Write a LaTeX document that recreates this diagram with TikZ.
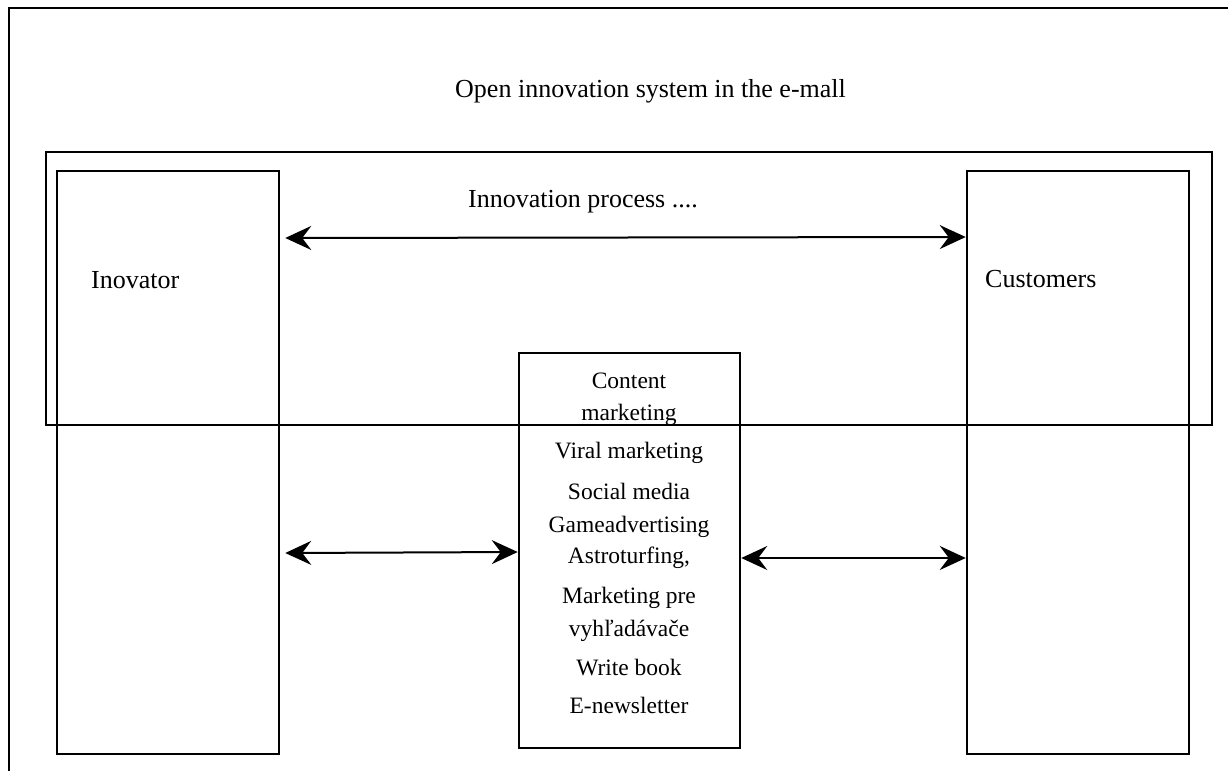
\documentclass[tikz,border=0pt]{standalone}
\usepackage{fontspec}
\setmainfont{Liberation Serif}
\usetikzlibrary{arrows.meta}
\begin{document}
\begin{tikzpicture}[x=1pt,y=-1pt,
  bigbox/.style={draw,line width=2.5pt,rectangle,inner sep=0pt},
  procbox/.style={draw,line width=1.8pt,rectangle,inner sep=0pt},
  lbl/.style={font=\fontsize{26}{30}\selectfont,inner sep=0pt,anchor=base west},
  item/.style={font=\fontsize{23.5}{28}\selectfont,inner sep=0pt,anchor=base},
  arr/.style={line width=2pt,{Stealth[length=26pt,width=24pt,inset=9pt]}-{Stealth[length=26pt,width=24pt,inset=9pt]}}
]
\useasboundingbox (0,0) rectangle (1228,771);
% outer frame (open on right and bottom)
\draw[line width=1.2pt] (9,771) -- (9,8) -- (1228,8);
% process rectangle
\node[procbox,minimum width=1166pt,minimum height=273pt] (proc) at (629,288.5) {};
% main boxes
\node[bigbox,minimum width=222pt,minimum height=583pt] (inov) at (168,462.5) {};
\node[bigbox,minimum width=222pt,minimum height=583pt] (cust) at (1078,462.5) {};
\node[bigbox,minimum width=221pt,minimum height=395pt] (mid) at (629.5,550.5) {};
% texts
\node[lbl] (title) at (455,97) {Open innovation system in the e-mall};
\node[lbl] (iproc) at (468,207) {Innovation process ....};
\node[lbl] (inovt) at (91,288) {Inovator};
\node[lbl] (custt) at (985,287) {Customers};
\node[item] (m1) at (629,388) {Content};
\node[item] (m2) at (629,420) {marketing};
\node[item] (m3) at (629,458) {Viral marketing};
\node[item] (m4) at (629,499) {Social media};
\node[item] (m5) at (629,532) {Gameadvertising};
\node[item] (m6) at (629,563) {Astroturfing,};
\node[item] (m7) at (629,603) {Marketing pre};
\node[item] (m8) at (629,636) {vyhľadávače};
\node[item] (m9) at (629,675) {Write book};
\node[item] (m10) at (629,713) {E-newsletter};
% arrows
\draw[arr] ([xshift=5pt]inov.east |- 0,238) -- (cust.west |- 0,237);
\draw[arr] ([xshift=5pt]inov.east |- 0,553) -- (mid.west |- 0,552);
\draw[arr] (mid.east |- 0,558) -- (cust.west |- 0,558);
\end{tikzpicture}
\end{document}
